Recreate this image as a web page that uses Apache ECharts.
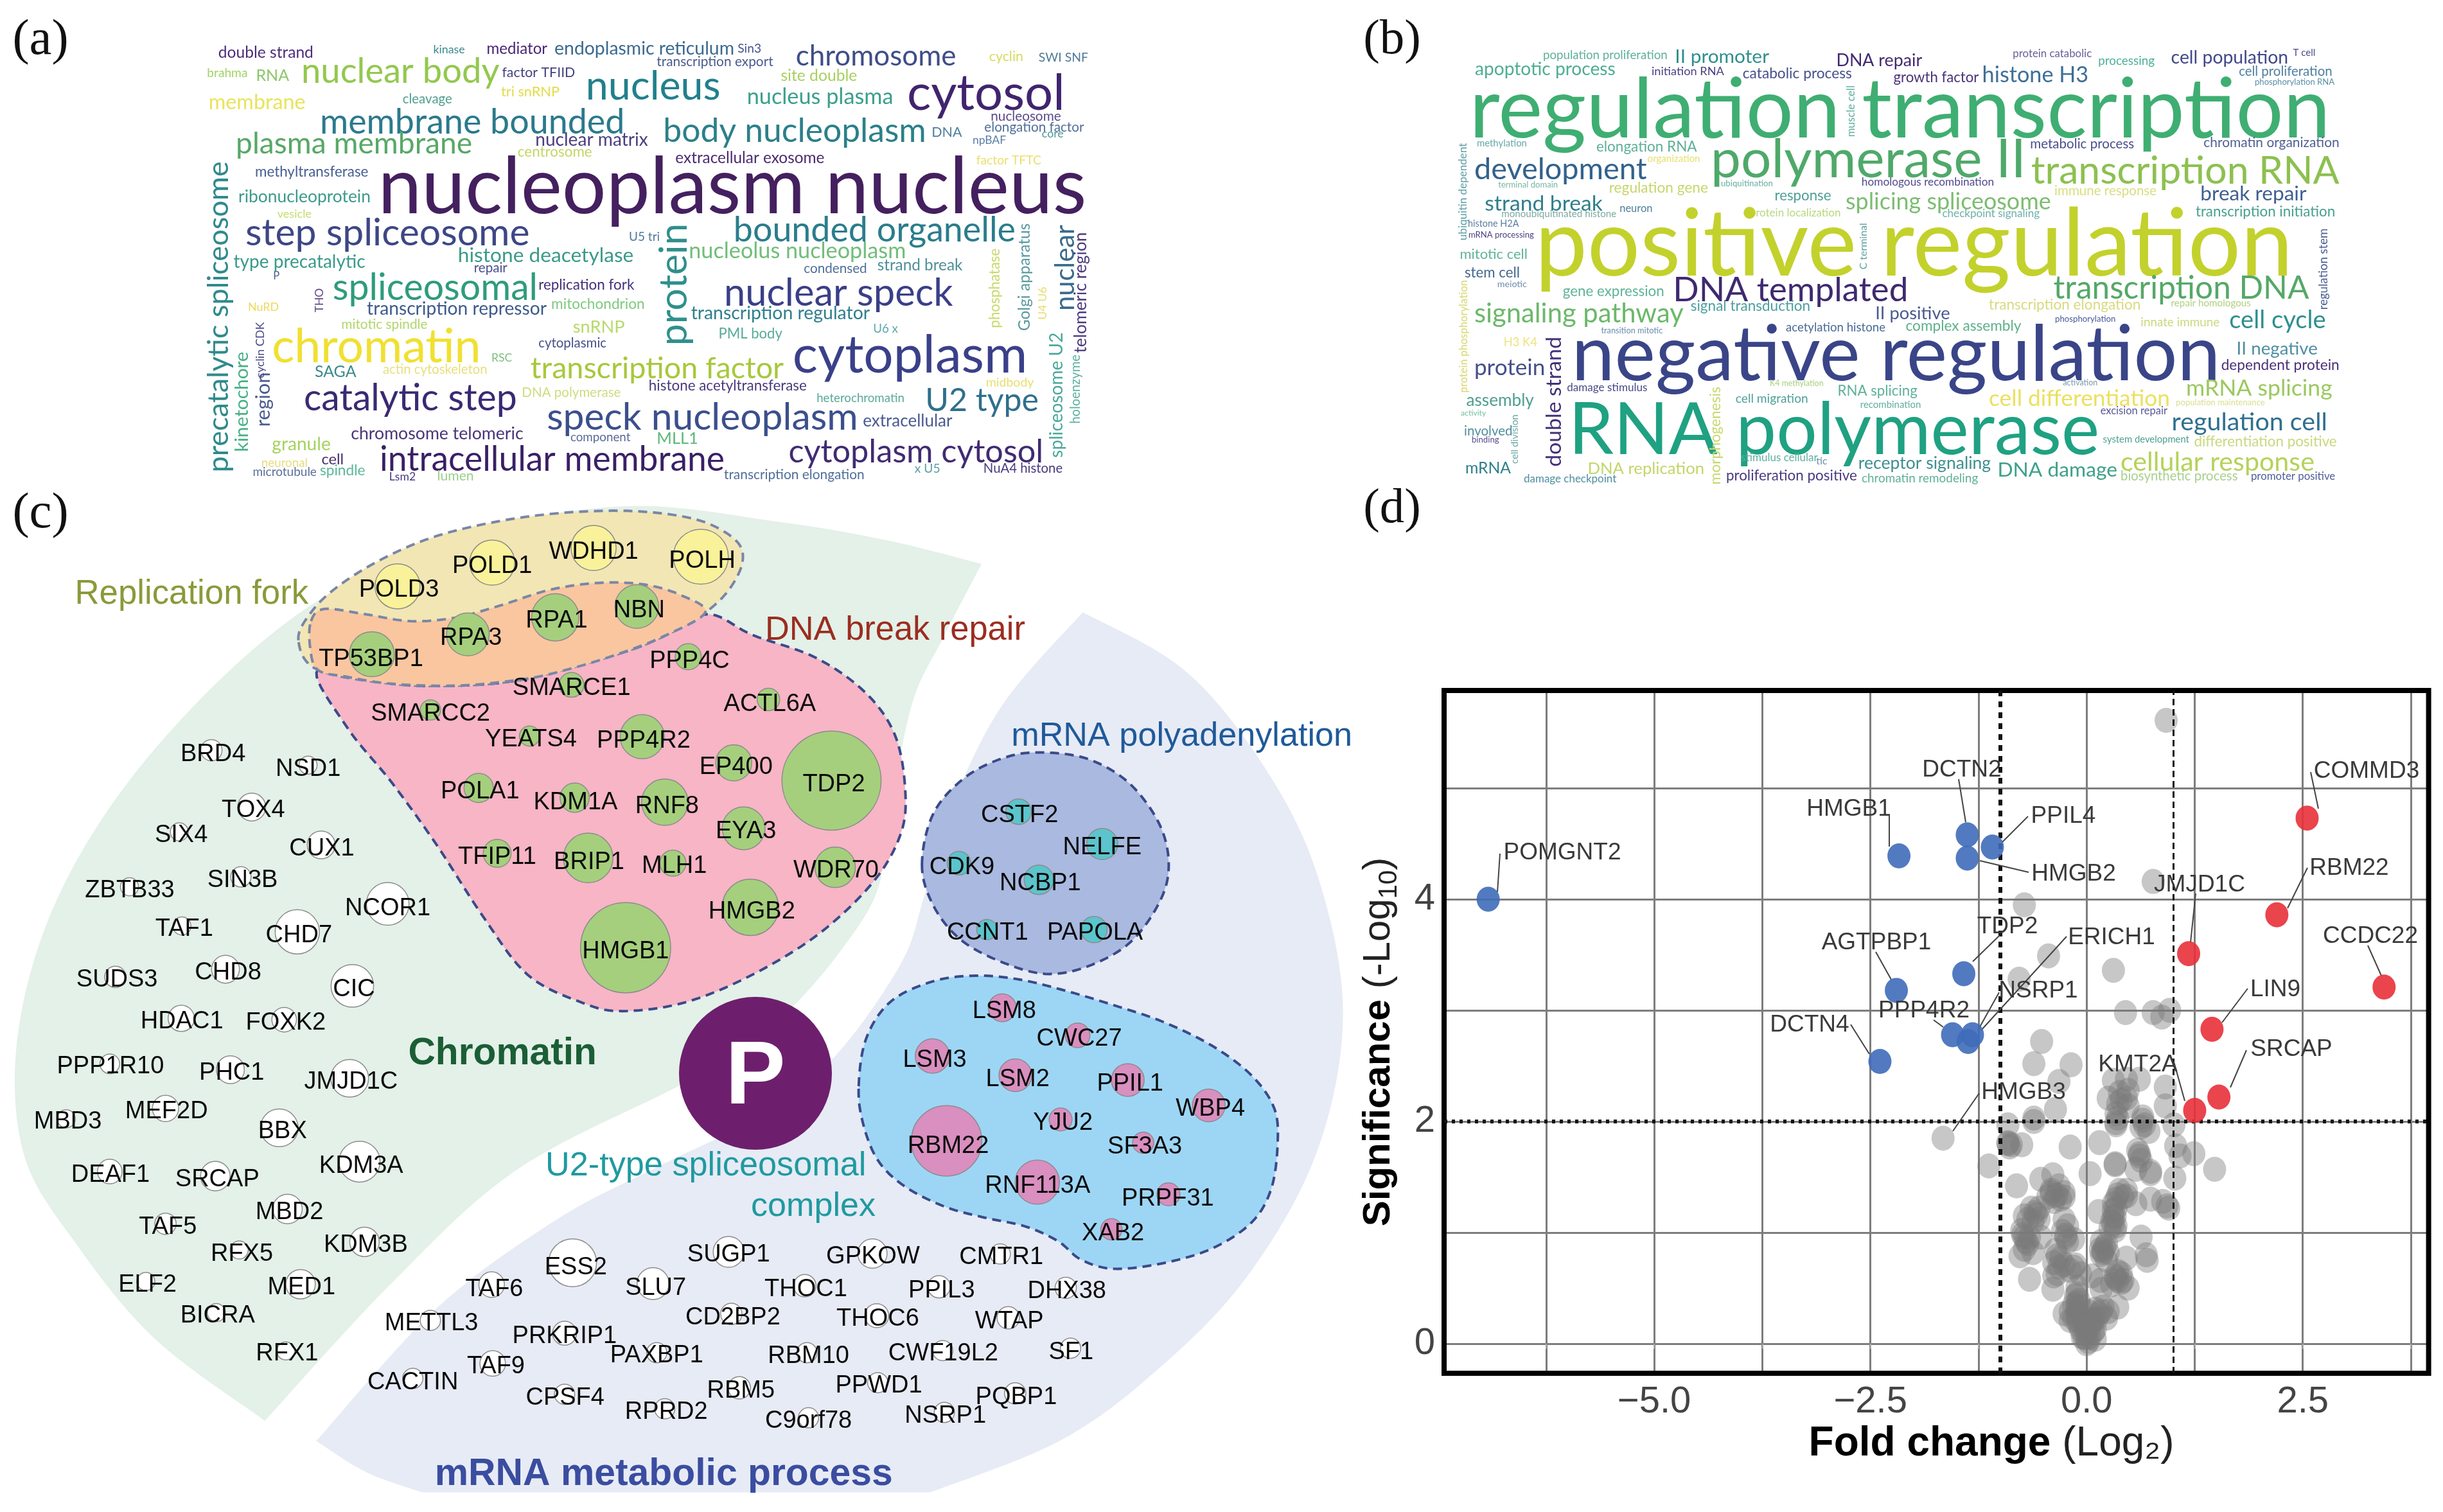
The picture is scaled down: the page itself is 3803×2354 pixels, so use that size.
<!DOCTYPE html>
<html><head><meta charset="utf-8"><title>Figure</title>
<style>html,body{margin:0;padding:0;background:#fff}#c{width:3803px;height:2354px}</style>
<script src="https://cdn.jsdelivr.net/npm/echarts@6/dist/echarts.min.js"></script>
</head><body><div id="c"></div>
<script>
/* ---------- panel (d) values: [log2 fold change, -log10 p] ---------- */
const notSignificant=[[.92,5.61],[.77,4.16],[-.72,3.95],[-.44,3.49],[-.78,3.28],[.31,3.36],[.45,2.98],[.77,2.98],[.96,3.0],[.87,2.94],[-.52,2.72],[-.61,2.52],[-.18,2.51],[-.32,2.36],
[-1.66,1.85],[-1.13,1.6],[-.91,1.97],[-.91,1.8],[-.75,1.79],[-.89,1.77],[-.61,2.0],[-.36,2.11],[-.19,1.77],[.15,1.81],[.04,1.53],[.33,1.62],[.61,1.71],[.63,1.65],[.74,1.55],[.57,1.57],[1.02,1.49],[1.24,1.71],[1.48,1.57],[1.03,1.78],[1.08,1.69],
[.31,2.37],[.46,2.38],[.61,2.38],[.25,2.21],[.46,2.21],[.36,2.16],[.48,2.14],[.34,2.07],[.34,1.97],[.65,2.04],[.67,1.97],[.72,1.91],[.91,2.31],[.91,2.14],[1.01,1.97],
[-.81,1.42],[-.53,1.48],[-.39,1.52],[-.36,1.33],[-.26,1.32],[-.41,1.36],[-.6,1.18],[-.72,1.15],[-.55,1.22],[-.26,1.12],[-.72,.96],[-.74,.98],[-.68,.9],[-.77,.79],[-.62,.82],[-.53,.96],[-.24,.98],[-.22,.92],[-.15,.94],[-.34,.79],[-.32,.69],[-.38,.61],[-.39,.49],[-.15,.69],[-.07,.63],[-.66,.58],
[.14,1.19],[.34,1.22],[.36,1.34],[.46,1.33],[.57,1.26],[.31,1.14],[.31,1.08],[.74,1.3],[.88,1.28],[.95,1.22],[.63,.96],[.19,.84],[.17,.8],[.23,.9],[.46,.77],[.7,.75],[.69,.8],[.34,.59],[.36,.65],[.4,.55],[.48,.5],[.17,.49],[.16,.57],[.06,.61],[.36,.33],[.23,.23],[.17,.29],
[-.26,.27],[-.19,.21],[-.11,.45],[-.11,.37],[-.11,.29],[-.11,.21],[-.07,.13],[0,0],[-.03,.06],[.04,.06],[.1,.13],[.12,.23],[.08,.21],[-.03,.19],[0,.11],[.1,.04],[-.11,.33],[-.15,.23],[.02,.29],
[-.41,1.38],[-.34,1.34],[-.30,1.30],[-.38,1.28],[-.45,1.32],[-.26,1.36],[-.32,1.42],[-.64,1.22],[-.58,1.16],[-.55,1.12],[-.68,1.12],[-.62,1.10],[-.75,1.02],[-.70,.92],[-.72,.85],[-.66,.96],[-.22,1.06],[-.28,1.01],[-.24,.96],[-.36,.84],[-.30,.77],[-.38,.73],[-.26,.71],[-.13,.71],[-.19,.66],[-.34,.63],
[-.11,.51],[-.13,.43],[-.09,.39],[-.15,.35],[-.07,.33],[-.19,.29],[-.11,.25],[-.03,.23],[-.09,.17],[-.02,.17],[.04,.15],[.08,.11],[-.05,.06],[.02,.02],[0,.05],[.06,.21],[.14,.27],[.10,.31],[.19,.33],[.25,.29],
[.17,.92],[.21,.87],[.19,.82],[.25,.82],[.16,.85],[.23,.75],[.31,1.20],[.33,1.15],[.29,1.10],[.34,1.06],[.27,1.04],[.33,1.02],[.38,1.38],[.34,1.30],[.42,1.32],[.31,1.26],[.46,1.38],[.33,.61],[.40,.63],[.36,.57],[.29,.53],[.42,.57],
[.40,2.19],[.38,2.26],[.48,2.28],[.65,2.01],[.63,1.95],[.34,1.99],[.36,2.03],[-.91,1.81],[-.87,1.79],[-.61,2.03],[.61,1.69],[.59,1.74],[.33,1.61],[.74,1.53],[.93,1.24]];
const downRegulated=[["POMGNT2",-6.92,4.0],["HMGB1",-2.17,4.39],["AGTPBP1",-2.2,3.18],["DCTN4",-2.39,2.54],["DCTN2",-1.38,4.58],["HMGB2",-1.38,4.37],["PPIL4",-1.09,4.47],["TDP2",-1.42,3.33],["PPP4R2",-1.55,2.78],["NSRP1",-1.37,2.72],["ERICH1",-1.32,2.78]];
const upRegulated=[["COMMD3",2.55,4.73],["RBM22",2.2,3.86],["CCDC22",3.44,3.21],["JMJD1C",1.18,3.51],["LIN9",1.45,2.83],["SRCAP",1.53,2.22],["KMT2A",1.25,2.1]];
const xGridValues=[-6.25,-5,-3.75,-2.5,-1.25,0,1.25,2.5,3.75];
const xLabelValues=[-5,-2.5,0,2.5];
const yGridValues=[0,1,2,3,4,5];
const yLabelValues=[0,2,4];
/* volcano call-outs: name, label centre, leader start, leader end (page px) */
const callouts=[["POMGNT2",2432,1324,2331,1389,2335,1329],["HMGB1",2878,1256,2941,1318,2941,1269],["AGTPBP1",2921,1464,2944,1525,2920,1482],["PPP4R2",2995,1570,3025,1599,3010,1588],["DCTN4",2817,1592,2910,1641,2881,1595],["DCTN2",3054,1195,3060,1280,3049,1213],["PPIL4",3212,1267,3117,1311,3157,1271],["HMGB2",3228,1357,3082,1340,3158,1358],["TDP2",3125,1439,3071,1497,3113,1456],["ERICH1",3287,1456,3084,1604,3217,1458],["NSRP1",3173,1539,3079,1604,3112,1545],["HMGB3",3150,1697,3040,1761,3081,1702],["COMMD3",3684,1197,3609,1259,3597,1202],["RBM22",3657,1348,3561,1414,3592,1351],["JMJD1C",3424,1374,3410,1467,3418,1391],["CCDC22",3690,1454,3707,1519,3686,1472],["LIN9",3542,1537,3459,1592,3499,1539],["SRCAP",3567,1630,3472,1693,3497,1635],["KMT2A",3328,1654,3401,1714,3384,1653]];

/* ---------- panel (a): terms placed [term, from, to, baseline, colour] ---------- */
const cloudA=[["double strand",120,418,108,"#4b2c7a"],["kinase",793,892,93,"#3b8a8c"],["mediator",960,1150,95,"#482575"],["endoplasmic reticulum",1172,1735,97,"#3b6a8e"],["brahma",85,212,173,"#a0d468"],["RNA",238,342,185,"#8bc76a"],["nuclear body",380,1000,190,"#93c84e"],["factor TFIID",1008,1237,173,"#43437f"],["tri snRNP",1005,1188,237,"#e3dc4a"],["transcription export",1492,1857,135,"#4a5b8c"],["nucleus",1270,1692,245,"#21808c"],["membrane",90,393,280,"#e9e45b"],["cleavage",697,852,262,"#4fa08f"],["membrane bounded",438,1392,362,"#2b7a8c"],["plasma membrane",175,915,430,"#57a866"],["nuclear matrix",1112,1465,405,"#4b3d80"],["centrosome",1057,1290,443,"#c4d668"],["methyltransferase",235,590,510,"#465f90"],["ribonucleoprotein",183,597,597,"#3d9a8c"],["vesicle",305,412,650,"#c4dc70"],["nucleoplasm nucleus",620,2837,628,"#44205f"],["step spliceosome",205,1095,740,"#3d4785"],["histone deacetylase",870,1420,800,"#3a9a89"],["U5 tri",1405,1502,728,"#4d7a9a"],["type precatalytic",168,580,820,"#3a9a89"],["repair",920,1025,835,"#4a4f8c"],["P",292,312,860,"#4a5c90"],["spliceosomal",478,1120,925,"#2e9c7c"],["replication fork",1122,1422,893,"#43307a"],["transcription repressor",585,1148,978,"#3e5a8c"],["mitochondrion",1162,1455,958,"#7fc97f"],["NuRD",213,310,965,"#ecd95f"],["mitotic spindle",505,775,1027,"#b2d66c"],["snRNP",1230,1392,1040,"#b8d96a"],["cytoplasmic",1122,1335,1090,"#47508a"],["chromatin",288,942,1135,"#f0e030"],["RSC",975,1040,1137,"#7fbf7f"],["SAGA",422,552,1190,"#3b8a8c"],["actin cytoskeleton",635,962,1178,"#e8e080"],["transcription factor",1097,1890,1192,"#a8c83c"],["DNA polymerase",1070,1380,1257,"#cfdc80"],["histone acetyltransferase",1467,1962,1235,"#4a3a7c"],["catalytic step",388,1055,1300,"#3a2a72"],["speck nucleoplasm",1148,2122,1365,"#3b4f8c"],["chromosome telomeric",535,1075,1400,"#4b3578"],["component",1222,1410,1408,"#5a6a9a"],["MLL1",1492,1622,1415,"#5cb878"],["granule",288,472,1437,"#a6d260"],["intracellular membrane",625,1705,1505,"#3a1f66"],["cell",443,513,1485,"#48306e"],["neuronal",255,400,1495,"#e8dc80"],["microtubule",228,428,1525,"#5a6f9a"],["spindle",438,580,1522,"#5cb898"],["Lsm2",655,738,1540,"#4a3a80"],["lumen",805,920,1540,"#9ad08a"]];
const cloudA2=[["Sin3",298,372,90,"#46558c"],["bounded organelle",285,1168,728,"#2a7d8c"],["body nucleoplasm",65,888,390,"#2b8089"],["chromosome",480,982,133,"#3f4d8a"],["cytosol",828,1322,280,"#41246e"],["cyclin",1085,1192,118,"#d8da60"],["SWI SNF",1240,1395,120,"#4f7a9a"],["site double",433,672,185,"#a8d060"],["nucleus plasma",327,785,263,"#3ba08c"],["DNA",905,1000,375,"#4f7f9a"],["nucleosome",1090,1310,320,"#5a4a8a"],["elongation factor",1070,1382,358,"#4f6f9a"],["core",1250,1318,378,"#4f9a9a"],["npBAF",1033,1138,400,"#5a7fa5"],["extracellular exosome",103,570,465,"#4a2a70"],["factor TFTC",1045,1248,470,"#e8e070"],["nucleolus nucleoplasm",145,825,785,"#72bd7a"],["condensed",505,703,838,"#4f6f9a"],["strand break",735,1002,827,"#4f8f99"],["nuclear speck",255,972,945,"#3a3f88"],["transcription regulator",152,712,993,"#2f7f8c"],["U6 x",722,800,1040,"#5fa8a8"],["PML body",238,438,1060,"#5aaa98"],["cytoplasm",470,1205,1170,"#3a4089"],["midbody",1075,1225,1222,"#e8e070"],["heterochromatin",545,820,1275,"#5aaa99"],["U2 type",885,1240,1303,"#2f6f8c"],["extracellular",690,970,1358,"#4a5a90"],["cytoplasm cytosol",457,1255,1478,"#412b72"],["x U5",852,932,1515,"#5a9fa5"],["NuA4 histone",1067,1315,1515,"#4a3a7c"],["transcription elongation",255,695,1535,"#4f6f9a"]];
/* rotated terms: [term, bottom, top, baseline x, colour] */
const cloudAUp=[["precatalytic spliceosome",1515,460,148,"#2f8a8c"],["kinetochore",1445,1105,212,"#48b088"],["region",1360,1175,280,"#4a5c90"],["cyclin CDK",1195,1005,262,"#4a4a8c"],["THO",972,890,448,"#5e4a8a"],["protein",1085,670,1582,"#2f8f8c"]];
const cloudA2Up=[["phosphatase",1025,755,1117,"#c9d96a"],["Golgi apparatus",1035,670,1210,"#5a9a9f"],["U4 U6",997,885,1263,"#e8dc70"],["nuclear",967,675,1348,"#3a6c8c"],["telomeric region",1110,700,1387,"#4b3a80"],["spliceosome U2",1465,1040,1312,"#4aa89a"],["holoenzyme",1350,1115,1367,"#60b0a0"]];
/* ---------- panel (b) ---------- */
const cloudB=[["population proliferation",265,655,110,"#5fb09a"],["II promoter",678,973,122,"#2f8f8c"],["DNA repair",1183,1452,133,"#442a70"],["apoptotic process",52,492,163,"#4fae92"],["initiation RNA",605,832,165,"#4a3f80"],["catabolic process",890,1232,175,"#46508c"],["growth factor",1362,1629,187,"#4a3278"],["regulation transcription",35,2729,365,"#3fae72"],["methylation",58,215,403,"#6aa8a8"],["elongation RNA",432,747,420,"#5faf98"],["organization",592,757,455,"#e8e070"],["development",50,590,510,"#33628c"],["polymerase II",790,1777,500,"#4fa96a"],["terminal domain",125,312,540,"#7ab8a0"],["ubiquitination",822,985,535,"#6ab0a0"],["regulation gene",472,782,557,"#c7d66c"],["homologous recombination",1262,1677,533,"#4f4a8c"],["response",990,1167,582,"#4f9f99"],["strand break",83,452,617,"#2f7f8c"],["splicing spliceosome",1212,1855,612,"#7dbd72"],["neuron",505,608,622,"#4f7f9a"],["monoubiquitinated histone",135,495,640,"#7faaa0"],["protein localization",912,1197,637,"#b8d880"],["histone H2A",30,190,672,"#5a7fa0"],["mRNA processing",32,237,708,"#4a3f80"],["positive regulation",240,2612,825,"#c3d12c"],["mitotic cell",5,217,778,"#5fb39a"],["stem cell",20,193,840,"#46688f"],["meiotic",122,215,873,"#6f8fae"],["gene expression",327,645,902,"#5fb39a"],["DNA templated",672,1408,918,"#3f2a70"],["signal transduction",727,1102,953,"#4f9f9f"],["signaling pathway",50,705,990,"#6cb86a"],["II positive",1305,1539,980,"#4a5a90"],["complex assembly",1400,1762,1018,"#5fb08a"],["acetylation histone",1025,1337,1022,"#4a6a96"],["transition mitotic",447,640,1027,"#6a8fae"],["H3 K4",142,247,1070,"#ece480"],["negative regulation",355,2385,1178,"#3a4588"],["protein",50,272,1165,"#46508c"],["damage stimulus",340,592,1222,"#4a4a8a"],["K4 methylation",975,1143,1205,"#a8d080"],["RNA splicing",1187,1437,1235,"#5fb09a"],["cell migration",868,1095,1260,"#4fa099"],["assembly",25,237,1270,"#4f9f90"],["recombination",1258,1448,1277,"#5fafa0"],["activity",8,87,1302,"#70bfa0"],["RNA polymerase",345,2007,1425,"#1fa182"],["involved",18,170,1370,"#4f8f9f"],["binding",42,128,1393,"#5a4a8a"],["stimulus cellular",885,1125,1455,"#5fb0a0"],["tic",1120,1155,1465,"#6a8faa"],["mRNA",22,165,1495,"#2f7f8c"],["DNA replication",405,770,1497,"#c2d66a"],["receptor signaling",1252,1667,1480,"#3f8f90"],["damage checkpoint",205,495,1527,"#4f8fa0"],["proliferation positive",838,1248,1520,"#4a3a80"],["chromatin remodeling",1262,1627,1525,"#5fb098"]];
const cloudB2=[["histone H3",172,505,187,"#3f6f96"],["protein catabolic",268,515,105,"#6a5f96"],["processing",535,712,130,"#4fb09a"],["cell population",763,1130,125,"#42488a"],["T cell",1145,1215,100,"#4a4a8a"],["cell proliferation",975,1268,167,"#4f7fa0"],["phosphorylation RNA",1025,1275,197,"#5a8fa8"],["metabolic process",322,648,408,"#4a4f8c"],["chromatin organization",865,1290,405,"#4f5f92"],["transcription RNA",325,1290,525,"#8dc050"],["immune response",398,718,566,"#d8df80"],["break repair",855,1187,583,"#3f5f90"],["checkpoint signaling",47,352,638,"#6fb0a8"],["transcription initiation",840,1277,637,"#4aa090"],["transcription DNA",395,1195,910,"#55a868"],["transcription elongation",193,668,948,"#d8da80"],["repair homologous",763,1013,938,"#b0d080"],["phosphorylation",400,590,990,"#4a5a9a"],["innate immune",668,915,1005,"#c8da80"],["cell cycle",945,1248,1010,"#2f8f8f"],["II negative",968,1222,1098,"#4f8fa0"],["dependent protein",920,1290,1150,"#4a2f78"],["activation",425,533,1203,"#7a9ab0"],["mRNA splicing",810,1268,1235,"#9cc860"],["cell differentiation",193,760,1270,"#ece060"],["population maintenance",778,1057,1268,"#d8df90"],["excision repair",542,752,1298,"#5a5a9a"],["regulation cell",765,1252,1350,"#2f6f8f"],["system development",550,820,1392,"#4f9f90"],["differentiation positive",835,1282,1405,"#c8d980"],["DNA damage",220,595,1505,"#3fa08a"],["cellular response",605,1212,1485,"#b5d25a"],["biosynthetic process",605,972,1520,"#a8d090"],["promoter positive",1013,1277,1518,"#4f5f98"]];
const cloudBUp=[["muscle cell",372,200,1240,"#5fb0a0"],["ubiquitin dependent",718,392,25,"#5fa0a8"],["protein phosphorylation",1228,850,28,"#d8d870"],["double strand",1475,1040,320,"#42307a"],["morphogenesis",1535,1207,818,"#c8d870"],["cell division",1465,1300,185,"#6fa8a8"],["C terminal",815,660,1278,"#5fa0a0"]];
const cloudB2Up=[["regulation stem",950,678,1252,"#4a5f90"]];

/* ---------- panel (c) nodes: [gene, cx, cy, width, label x, label y] in local crop units ---------- */
const repFork=[["POLD3",312,245,100,315,248],["POLD1",522,177,100,522,180],["WDHD1",747,135,100,747,140],["POLH",985,160,122,988,165]];
const dnaBreak=[["RPA3",468,383,95,475,387],["RPA1",662,334,105,665,336],["NBN",843,303,97,848,307],["TP53BP1",255,440,100,253,448],["PPP4C",957,447,58,960,452],["SMARCE1",698,528,55,698,530],["ACTL6A",1135,570,50,1138,577],["SMARCC2",385,600,45,385,605],["YEATS4",605,675,45,608,678],["PPP4R2",855,677,98,858,682],["EP400",1058,752,80,1063,757],["TDP2",1275,803,220,1280,808],["POLA1",492,824,65,495,828],["KDM1A",705,852,65,707,858],["RNF8",905,865,103,910,870],["EYA3",1080,940,95,1085,942],["TFIP11",533,1012,62,533,1015],["BRIP1",735,1025,110,737,1030],["MLH1",923,1040,58,926,1042],["WDR70",1283,1052,90,1285,1055],["HMGB2",1095,1167,125,1098,1172],["HMGB1",818,1283,200,818,1287]];
const polyA=[["CSTF2",560,285,78,563,288],["NELFE",815,373,95,815,375],["CDK9",378,425,72,387,430],["NCBP1",622,470,90,626,473],["CCNT1",463,605,62,465,607],["PAPOLA",790,605,80,793,607]];
const u2Complex=[["LSM8",510,817,85,516,820],["CWC27",740,892,75,745,895],["LSM3",297,948,105,304,952],["LSM2",550,1000,100,557,1004],["PPIL1",893,1013,100,900,1017],["WBP4",1140,1082,100,1145,1085],["YJU2",688,1120,70,695,1123],["RBM22",340,1178,215,345,1185],["SF3A3",940,1183,65,945,1187],["RNF113A",617,1290,135,618,1293],["PRPF31",1017,1323,70,1015,1328],["XAB2",843,1418,65,848,1422]];
const chromatinGenes=[["BRD4",645,97,65,650,100],["NSD1",940,130,55,940,133],["TOX4",768,223,85,773,225],["SIX4",547,278,55,553,280],["CUX1",980,307,85,982,310],["SIN3B",735,378,62,740,380],["ZBTB33",395,400,55,396,403],["NCOR1",1183,438,130,1183,442],["TAF1",555,487,55,562,488],["CHD7",907,500,135,912,503],["CHD8",688,583,85,696,585],["SUDS3",352,600,65,357,601],["CIC",1075,620,130,1080,622],["HDAC1",553,692,80,555,693],["FOXK2",867,695,75,872,697],["PPP1R10",335,793,60,337,793],["PHC1",703,806,85,707,808],["JMJD1C",1067,825,115,1071,828],["MEF2D",505,892,80,508,893],["MBD3",202,915,55,207,916],["BBX",852,935,115,862,937],["KDM3A",1097,1010,125,1102,1014],["DEAF1",335,1032,75,337,1034],["SRCAP",657,1042,90,663,1044],["MBD2",877,1115,90,883,1117],["TAF5",505,1148,65,512,1149],["RFX5",730,1206,55,738,1209],["KDM3B",1112,1188,90,1116,1190],["ELF2",445,1276,55,450,1278],["MED1",917,1282,90,920,1284],["BICRA",660,1345,55,664,1347],["RFX1",872,1430,55,876,1431]];
const mrnaGenes=[["ESS2",472,198,90,478,210],["SUGP1",765,147,58,765,150],["GPKOW",1035,155,55,1036,157],["CMTR1",1275,157,38,1277,160],["TAF6",320,300,48,325,310],["SLU7",623,295,60,628,305],["THOC1",908,305,42,910,310],["PPIL3",1160,310,42,1165,317],["DHX38",1398,315,40,1400,320],["CD2BP2",770,437,40,773,443],["THOC6",1043,445,45,1045,450],["WTAP",1290,455,42,1292,462],["METTL3",205,467,38,207,470],["PRKRIP1",457,527,45,457,530],["PAXBP1",630,618,38,630,620],["RBM10",912,618,38,915,622],["CWF19L2",1167,608,38,1168,612],["SF1",1407,597,38,1408,605],["TAF9",322,668,48,328,672],["CACTIN",172,738,38,172,745],["RBM5",785,782,42,788,785],["PPWD1",1045,758,38,1047,760],["PQBP1",1303,808,40,1305,815],["CPSF4",457,812,38,458,818],["RPRD2",645,880,38,648,885],["C9orf78",915,922,38,915,925],["NSRP1",1170,897,38,1172,903]];
/* headings: text, from, to, y (1568-wide units), colour, bold */
const headings=[["Replication fork",48,198,380,"#8a9a3a",0],["DNA break repair",491,658,403,"#9b2d20",0],["mRNA polyadenylation",649,868,471,"#1f5a9a",0],["U2-type spliceosomal",350,556,747,"#1f9aa0",0],["complex",482,562,773,"#1f9aa0",0],["Chromatin",262,383,675,"#1b5e35",1],["mRNA metabolic process",279,573,945,"#3b4da0",1]];
const panelTags=[["(a)",8,44,26],["(b)",875,912,26],["(c)",8,44,330],["(d)",875,912,327]];

/* ---------- helpers ---------- */
const S=3803/1568, DY=4, BL=0.29;
const mctx=document.createElement('canvas').getContext('2d');
const CF='Lato';
function fit(t,w,font){mctx.font=font||'200px '+CF;return 200*w/mctx.measureText(t).width;}
function flat(rows,ox,x0,y0,sx,sy){return rows.map(r=>{const x=x0+(r[1]+ox)/sx,w=(r[2]-r[1])/sx,fs=fit(r[0],w);
  return {name:r[0],value:[x+w/2,y0+r[3]/sy-BL*fs],symbolSize:0,label:{fontSize:fs,color:r[4],fontFamily:CF}};});}
function up(rows,ox,x0,y0,sx,sy){return rows.map(r=>{const h=(r[1]-r[2])/sy,fs=fit(r[0],h);
  return {name:r[0],value:[x0+(r[3]+ox)/sx-BL*fs,y0+(r[1]+r[2])/2/sy],symbolSize:0,label:{fontSize:fs,color:r[4],fontFamily:CF,rotate:90}};});}
const sx=1568/780,syA=1568/720,syB=1568/730;
const words=[...flat(cloudA,0,280,40,sx,syA),...flat(cloudA2,1447.4,280,40,sx,syA),...up(cloudAUp,0,280,40,sx,syA),...up(cloudA2Up,1447.4,280,40,sx,syA),
 ...flat(cloudB,0,2270,40,sx,syB),...flat(cloudB2,1467.5,2270,40,sx,syB),...up(cloudBUp,0,2270,40,sx,syB),...up(cloudB2Up,1467.5,2270,40,sx,syB)];
const z8=[400,780,1568/1100,1568/850],z9=[1300,1100,1.96,1568/900],z10=[0,1100,1.96,1568/1100],z11=[500,1900,1568/1300,3];
const P=(z,x,y)=>[z[0]+x/z[2],z[1]+y/z[3]];
function nodes(rows,z){return rows.map(r=>{const c=P(z,r[1],r[2]),t=P(z,r[4],r[5]);
  return {name:r[0],value:c,symbolSize:r[3]/z[2],label:{offset:[t[0]-c[0],t[1]-c[1]+DY]}};});}
function nodeSeries(rows,z,fill){return {type:'scatter',xAxisIndex:0,yAxisIndex:0,z:5,silent:true,animation:false,data:nodes(rows,z),
  itemStyle:{color:fill,borderColor:'#8c8c8c',borderWidth:1.5,opacity:1},
  label:{show:true,position:'inside',formatter:'{b}',fontFamily:'"Liberation Sans"',fontSize:38,color:'#0a0a0a'},emphasis:{disabled:true}};}
function spline(p,closed,n){n=n||10;const out=[],L=p.length,g=i=>closed?p[(i+L)%L]:p[Math.max(0,Math.min(L-1,i))];
  const m=closed?L:L-1;for(let i=0;i<m;i++){const a=g(i-1),b=g(i),c=g(i+1),d=g(i+2);for(let k=0;k<n;k++){const t=k/n,t2=t*t,t3=t2*t;
   out.push([0,1].map(j=>.5*(2*b[j]+(c[j]-a[j])*t+(2*a[j]-5*b[j]+4*c[j]-d[j])*t2+(3*b[j]-a[j]-3*c[j]+d[j])*t3)));}}
  if(!closed)out.push(p[L-1]);return out;}
const sh=a=>a.map(q=>[q[0]*S,q[1]*S]);
const viaZ=(z,a)=>a.map(q=>P(z,q[0],q[1]));
function poly(points,fill,stroke,lw,z2){return {type:'polygon',silent:true,z:1,z2,shape:{points},style:{fill,stroke:stroke||null,lineWidth:lw||0,lineDash:stroke?[14,9]:null}};}

const greenRegion=[...spline(sh([[170,912],[100,860],[50,800],[15,740],[12,660],[40,570],[100,480],[190,395],[290,345],[400,325],[500,335],[570,347],[630,362]]),false),
 ...spline(sh([[630,362],[605,410],[585,453],[570,530],[563,572],[542,607],[510,645],[470,680]]),false),
 ...spline(sh([[470,680],[430,700],[330,752],[250,825],[170,912]]),false)];
const blueRegion=[...spline(sh([[203,925],[235,945],[271,958]]),false),...sh([[597,958]]),
 ...spline(sh([[597,958],[680,925],[742,880],[800,820],[845,740],[862,650],[845,560],[810,490],[760,430],[695,393]]),false),
 ...spline(sh([[695,393],[643,453],[610,520],[593,576],[578,619],[536,678],[490,715],[420,750],[357,783],[280,840],[203,925]]),false)];
const pinkBlob=spline(viaZ(z8,[[135,485],[200,650],[300,810],[400,990],[500,1190],[600,1360],[720,1440],[810,1465],[950,1440],[1100,1360],[1250,1240],[1370,1090],[1430,950],[1438,820],[1415,670],[1350,550],[1240,450],[1100,385],[1000,325],[900,390],[800,440],[600,510],[450,530],[300,525]]),true);
const yellowBlob=spline(viaZ(z8,[[92,400],[120,320],[180,245],[280,165],[400,100],[550,55],[700,32],[850,30],[980,55],[1060,110],[1078,170],[1050,250],[995,320],[900,390],[800,440],[600,510],[450,530],[300,525],[135,485]]),true);
const orangeBlob=spline(viaZ(z8,[[120,345],[150,310],[240,325],[340,345],[440,335],[540,300],[650,255],[760,235],[860,240],[940,270],[995,320],[900,390],[800,440],[700,480],[600,510],[450,530],[300,525],[200,505],[135,485],[118,420]]),true);
const polyABlob=spline(viaZ(z9,[[265,430],[300,290],[400,190],[530,135],[650,125],[780,145],[900,210],[990,320],[1018,430],[990,530],[900,640],[770,705],[640,725],[500,690],[380,630],[300,540]]),true);
const u2Blob=spline(viaZ(z9,[[72,1030],[95,900],[170,800],[300,745],[430,730],[560,740],[700,770],[850,810],[1000,855],[1150,920],[1270,1000],[1340,1090],[1350,1190],[1330,1310],[1270,1400],[1150,1470],[1000,1510],[850,1525],[750,1500],[680,1450],[580,1410],[450,1385],[330,1355],[210,1300],[130,1230],[85,1130]]),true);

const headItems=headings.map(h=>{const font=(h[5]?'bold ':'')+'200px "Liberation Sans"',fs=fit(h[0],(h[2]-h[1])*S,font);
 return {name:h[0],value:[(h[1]+h[2])/2*S,h[3]*S+DY],symbolSize:0,label:{fontSize:fs,color:h[4],fontWeight:h[5]?'bold':'normal',fontFamily:'"Liberation Sans"'}};});
const tagItems=panelTags.map(h=>({name:h[0],value:[(h[1]+h[2])/2*S,h[3]*S],symbolSize:0,label:{fontSize:fit(h[0],(h[2]-h[1])*S,'200px "Liberation Serif"'),color:'#111',fontFamily:'"Liberation Serif"'}}));
const calloutItems=callouts.map(c=>({name:c[0],value:[c[1],c[2]+DY],symbolSize:0,label:{fontSize:37,color:'#3a3a3a',fontFamily:'"Liberation Sans"'}}));
const calloutLines=callouts.map(c=>[{coord:[c[3],c[4]]},{coord:[c[5],c[6]]}]);
const textSeries=(data,z)=>({type:'scatter',xAxisIndex:0,yAxisIndex:0,z,silent:true,animation:false,data,itemStyle:{opacity:1},label:{show:true,position:'inside',formatter:'{b}',opacity:1},emphasis:{disabled:true}});

const plot={left:2248,top:1075,width:1532.6,height:1063};
const dashed=(axis,v,w,dash)=>({[axis]:v,lineStyle:{color:'#111',width:w,type:dash}});
const sig=rows=>rows.map(r=>({name:r[0],value:[r[1],r[2]]}));
const ptSeries=(data,color,op,z)=>({type:'scatter',xAxisIndex:1,yAxisIndex:1,z,silent:true,animation:false,symbol:'circle',symbolSize:[36,39],data,itemStyle:{color,opacity:op},emphasis:{disabled:true}});

const chart=echarts.init(document.getElementById('c'),null,{renderer:'canvas',width:3803,height:2354});
chart.setOption({animation:false,backgroundColor:'#fff',tooltip:{show:false},
 grid:[{left:0,top:0,width:3803,height:2354,show:false},{...plot,show:true,borderColor:'#000',borderWidth:8,backgroundColor:'transparent',z:1}],
 xAxis:[{type:'value',gridIndex:0,min:0,max:3803,show:false},
  {type:'value',gridIndex:1,min:-7.43,max:3.955,
   axisLine:{show:false},axisTick:{show:true,length:8,lineStyle:{color:'#aaa',width:2},customValues:xGridValues},
   splitLine:{show:true,lineStyle:{color:'#7d7d7d',width:3}},
   axisLabel:{customValues:xLabelValues,margin:16,fontSize:58,fontFamily:'"Liberation Sans"',color:'#444',formatter:v=>(v<0?'\u2212':'')+Math.abs(v).toFixed(1)}}],
 yAxis:[{type:'value',gridIndex:0,min:0,max:2354,inverse:true,show:false},
  {type:'value',gridIndex:1,min:-0.266,max:5.879,
   axisLine:{show:false},axisTick:{show:false,customValues:yGridValues},
   splitLine:{show:true,lineStyle:{color:'#7d7d7d',width:3}},
   axisLabel:{customValues:yLabelValues,margin:14,fontSize:58,fontFamily:'"Liberation Sans"',color:'#444'}}],
 graphic:{elements:[poly(greenRegion,'#e3f1e8',null,0,1),poly(blueRegion,'#e7ebf5',null,0,2),
  poly(pinkBlob,'#f7b5c5','#3a4a8a',4,3),poly(yellowBlob,'#f2e6b4','#7a86a6',4,4),poly(orangeBlob,'#f9c6a0','#7a86a6',4,5),
  poly(polyABlob,'#a9b9e0','#3a4a8a',4,6),poly(u2Blob,'#9dd6f5','#3a4a8a',4,7)]},
 series:[
  textSeries(words,3),
  nodeSeries(chromatinGenes,z10,'#ffffff'),nodeSeries(mrnaGenes,z11,'#ffffff'),
  nodeSeries(repFork,z8,'#f9f29a'),nodeSeries(dnaBreak,z8,'#a5cf7d'),nodeSeries(polyA,z9,'#5cc4cc'),nodeSeries(u2Complex,z9,'#d98fc0'),
  {type:'scatter',xAxisIndex:0,yAxisIndex:0,z:6,silent:true,animation:false,symbolSize:238,itemStyle:{color:'#6d1f6d',opacity:1},
   data:[{name:'P',value:[1176,1671]}],label:{show:true,position:'inside',offset:[0,8],formatter:'{b}',fontSize:140,fontWeight:'bold',fontFamily:'"Liberation Sans"',color:'#fff'},emphasis:{disabled:true}},
  textSeries(headItems,7),textSeries(tagItems,7),
  ptSeries(notSignificant,'#7a7a7a',.42,4),
  ptSeries(sig(downRegulated),'#3f6cb9',.9,5),ptSeries(sig(upRegulated),'#e8303a',.9,5),
  {type:'scatter',xAxisIndex:1,yAxisIndex:1,z:6,silent:true,animation:false,symbolSize:0,data:[],
   markLine:{silent:true,symbol:'none',animation:false,label:{show:false},data:[dashed('yAxis',2,6,[5,7]),dashed('xAxis',-1,6,[9,8]),dashed('xAxis',1,3,[10,6])]}},
  {...textSeries(calloutItems,8),markLine:{silent:true,symbol:'none',animation:false,label:{show:false},lineStyle:{color:'#444',width:2,type:'solid'},data:calloutLines}},
  {...textSeries([{name:'fold',value:[3100,2248],symbolSize:0,label:{formatter:'{b|Fold change}{n|\u00a0(Log\u2082)}',rich:{b:{fontSize:64,fontWeight:'bold',fontFamily:'"Liberation Sans"',color:'#000'},n:{fontSize:64,fontFamily:'"Liberation Sans"',color:'#222'}}}},
   {name:'sig',value:[2146,1622],symbolSize:0,label:{rotate:90,formatter:'{b|Significance}{n|\u00a0(-Log}{s|10}{n|)}',rich:{b:{fontSize:60,fontWeight:'bold',fontFamily:'"Liberation Sans"',color:'#000',lineHeight:74},n:{fontSize:60,fontFamily:'"Liberation Sans"',color:'#222',lineHeight:74},s:{fontSize:40,fontFamily:'"Liberation Sans"',color:'#222',verticalAlign:'bottom',lineHeight:74}}}}],8)}
 ]});
</script></body></html>
